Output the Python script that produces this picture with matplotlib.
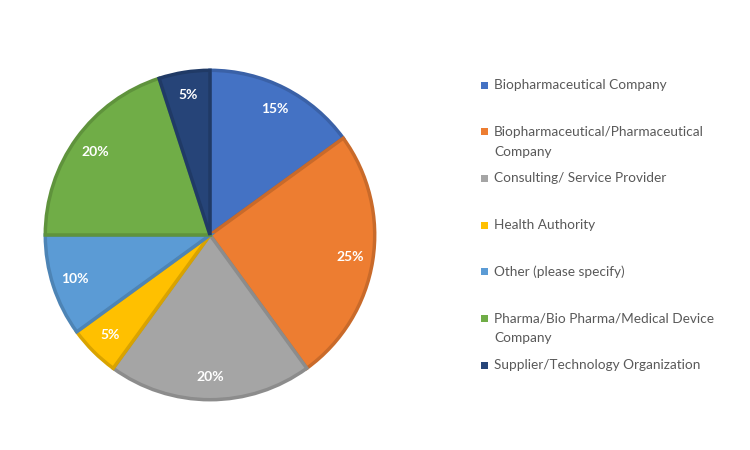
import matplotlib
matplotlib.use("Agg")
import matplotlib.pyplot as plt
import matplotlib.colors as mcolors
from matplotlib.patches import Rectangle

categories = [
    "Biopharmaceutical Company",
    "Biopharmaceutical/Pharmaceutical\nCompany",
    "Consulting/ Service Provider",
    "Health Authority",
    "Other (please specify)",
    "Pharma/Bio Pharma/Medical Device\nCompany",
    "Supplier/Technology Organization",
]
values = [15, 25, 20, 5, 10, 20, 5]
colors = ["#4472C4", "#ED7D31", "#A5A5A5", "#FFC000", "#5B9BD5", "#70AD47", "#264478"]

plt.rcParams['font.family'] = ['Lato', 'DejaVu Sans']

fig = plt.figure(figsize=(7.5, 4.5), dpi=100)
W, H = 750, 450
cx, cy, r = 210, 235, 168
ax = fig.add_axes([(cx - r) / W, (H - cy - r) / H, 2 * r / W, 2 * r / H])

def darker(c, f=0.85):
    rgb = mcolors.to_rgb(c)
    return tuple(v * f for v in rgb)

wedges, texts, autotexts = ax.pie(
    values, colors=colors, startangle=90, counterclock=False,
    autopct=lambda p: f"{p:.0f}%", pctdistance=0.86,
    wedgeprops=dict(linewidth=2.5),
    textprops=dict(color="white", fontsize=10, fontweight="bold"),
)
for w, c in zip(wedges, colors):
    w.set_edgecolor(darker(c))
    w.set_joinstyle("miter")
ax.set_xlim(-1.02, 1.02)
ax.set_ylim(-1.02, 1.02)
ax.set_aspect("equal")
ax.axis("off")

# legend drawn manually to match uniform entry spacing
y0, dy = 85, 46.67
for i, (lab, c) in enumerate(zip(categories, colors)):
    y = y0 + i * dy
    fig.patches.append(Rectangle(((481) / W, (H - y - 3.5) / H), 7 / W, 7 / H,
                                 transform=fig.transFigure, facecolor=c,
                                 edgecolor="none"))
    if "\n" in lab:
        fig.text(494 / W, (H - y + 6) / H, lab, fontsize=9.8, color="#595959",
                 va="top", ha="left", linespacing=1.8)
    else:
        fig.text(494 / W, (H - y) / H, lab, fontsize=9.8, color="#595959",
                 va="center", ha="left")

fig.savefig("out.png", dpi=100)
